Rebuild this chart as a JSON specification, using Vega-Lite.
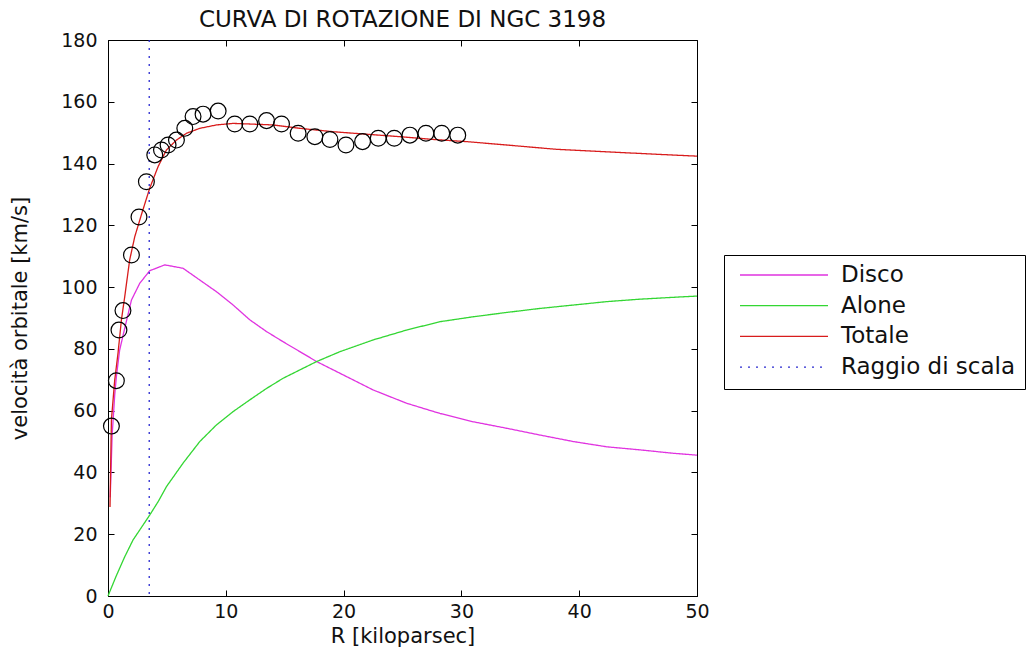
{
  "$schema": "https://vega.github.io/schema/vega-lite/v6.json",
  "width": 589,
  "height": 556,
  "autosize": {"type": "none"},
  "padding": {"left": 108, "top": 40, "right": 336, "bottom": 61},
  "background": "white",
  "title": {"text": "CURVA DI ROTAZIONE DI NGC 3198", "font": "DejaVu Sans", "fontSize": 23, "fontWeight": "normal", "color": "#111111", "anchor": "middle", "offset": -1},
  "config": {
    "view": {"stroke": "black", "strokeWidth": 1},
    "axis": {"grid": false, "domainColor": "black", "tickColor": "black", "labelColor": "#111111", "titleColor": "#111111", "labelFont": "DejaVu Sans", "titleFont": "DejaVu Sans", "labelFontSize": 19, "titleFontSize": 21, "titleFontWeight": "normal", "tickSize": -6, "labelFlush": false, "labelOverlap": false}
  },
  "resolve": {"axis": {"x": "independent", "y": "independent"}},
  "layer": [
    {
      "data": {"values": [
        {"R": 0.19, "v": 32, "serie": "Disco"},
        {"R": 0.35, "v": 52, "serie": "Disco"},
        {"R": 0.57, "v": 65, "serie": "Disco"},
        {"R": 0.71, "v": 71, "serie": "Disco"},
        {"R": 0.99, "v": 79.6, "serie": "Disco"},
        {"R": 1.42, "v": 86.7, "serie": "Disco"},
        {"R": 1.99, "v": 95.8, "serie": "Disco"},
        {"R": 2.69, "v": 101.2, "serie": "Disco"},
        {"R": 3.54, "v": 105.3, "serie": "Disco"},
        {"R": 4.82, "v": 107.2, "serie": "Disco"},
        {"R": 6.37, "v": 106.1, "serie": "Disco"},
        {"R": 7.79, "v": 102.3, "serie": "Disco"},
        {"R": 9.21, "v": 98.5, "serie": "Disco"},
        {"R": 10.62, "v": 94.2, "serie": "Disco"},
        {"R": 12.04, "v": 89.4, "serie": "Disco"},
        {"R": 13.46, "v": 85.6, "serie": "Disco"},
        {"R": 14.87, "v": 82.3, "serie": "Disco"},
        {"R": 16.29, "v": 79.1, "serie": "Disco"},
        {"R": 17.71, "v": 75.9, "serie": "Disco"},
        {"R": 19.12, "v": 73.2, "serie": "Disco"},
        {"R": 22.51, "v": 66.7, "serie": "Disco"},
        {"R": 25.35, "v": 62.4, "serie": "Disco"},
        {"R": 28.18, "v": 59.1, "serie": "Disco"},
        {"R": 31.01, "v": 56.4, "serie": "Disco"},
        {"R": 33.85, "v": 54.3, "serie": "Disco"},
        {"R": 36.68, "v": 52.1, "serie": "Disco"},
        {"R": 39.51, "v": 50.0, "serie": "Disco"},
        {"R": 42.34, "v": 48.3, "serie": "Disco"},
        {"R": 45.18, "v": 47.3, "serie": "Disco"},
        {"R": 48.0, "v": 46.2, "serie": "Disco"},
        {"R": 50, "v": 45.6, "serie": "Disco"},
        {"R": 0, "v": 0, "serie": "Alone"},
        {"R": 0.7, "v": 6.5, "serie": "Alone"},
        {"R": 1.42, "v": 12.7, "serie": "Alone"},
        {"R": 2.12, "v": 18.1, "serie": "Alone"},
        {"R": 3.54, "v": 26.2, "serie": "Alone"},
        {"R": 4.25, "v": 30.5, "serie": "Alone"},
        {"R": 4.96, "v": 35.4, "serie": "Alone"},
        {"R": 6.37, "v": 43.0, "serie": "Alone"},
        {"R": 7.79, "v": 50.0, "serie": "Alone"},
        {"R": 9.21, "v": 55.4, "serie": "Alone"},
        {"R": 10.62, "v": 59.7, "serie": "Alone"},
        {"R": 12.04, "v": 63.5, "serie": "Alone"},
        {"R": 13.46, "v": 67.2, "serie": "Alone"},
        {"R": 14.87, "v": 70.5, "serie": "Alone"},
        {"R": 16.29, "v": 73.2, "serie": "Alone"},
        {"R": 17.71, "v": 75.9, "serie": "Alone"},
        {"R": 19.69, "v": 79.1, "serie": "Alone"},
        {"R": 22.51, "v": 82.9, "serie": "Alone"},
        {"R": 25.35, "v": 86.1, "serie": "Alone"},
        {"R": 28.18, "v": 88.8, "serie": "Alone"},
        {"R": 31.01, "v": 90.4, "serie": "Alone"},
        {"R": 33.85, "v": 91.8, "serie": "Alone"},
        {"R": 36.68, "v": 93.1, "serie": "Alone"},
        {"R": 39.51, "v": 94.2, "serie": "Alone"},
        {"R": 42.34, "v": 95.3, "serie": "Alone"},
        {"R": 45.18, "v": 96.1, "serie": "Alone"},
        {"R": 48.0, "v": 96.7, "serie": "Alone"},
        {"R": 50, "v": 97.1, "serie": "Alone"},
        {"R": 0.17, "v": 28.8, "serie": "Totale"},
        {"R": 0.29, "v": 57.0, "serie": "Totale"},
        {"R": 0.57, "v": 69.9, "serie": "Totale"},
        {"R": 0.85, "v": 78.6, "serie": "Totale"},
        {"R": 1.14, "v": 89.4, "serie": "Totale"},
        {"R": 1.42, "v": 96.9, "serie": "Totale"},
        {"R": 1.84, "v": 108.8, "serie": "Totale"},
        {"R": 2.27, "v": 116.3, "serie": "Totale"},
        {"R": 2.84, "v": 123.5, "serie": "Totale"},
        {"R": 3.54, "v": 132.0, "serie": "Totale"},
        {"R": 4.25, "v": 139.0, "serie": "Totale"},
        {"R": 4.96, "v": 144.4, "serie": "Totale"},
        {"R": 5.81, "v": 147.6, "serie": "Totale"},
        {"R": 6.66, "v": 149.8, "serie": "Totale"},
        {"R": 7.79, "v": 151.4, "serie": "Totale"},
        {"R": 9.21, "v": 152.5, "serie": "Totale"},
        {"R": 10.62, "v": 153.0, "serie": "Totale"},
        {"R": 12.04, "v": 152.8, "serie": "Totale"},
        {"R": 14.02, "v": 152.5, "serie": "Totale"},
        {"R": 16.29, "v": 151.4, "serie": "Totale"},
        {"R": 19.12, "v": 150.3, "serie": "Totale"},
        {"R": 21.95, "v": 149.5, "serie": "Totale"},
        {"R": 24.78, "v": 148.7, "serie": "Totale"},
        {"R": 27.61, "v": 147.8, "serie": "Totale"},
        {"R": 30.45, "v": 147.1, "serie": "Totale"},
        {"R": 33.85, "v": 146.0, "serie": "Totale"},
        {"R": 38.1, "v": 144.6, "serie": "Totale"},
        {"R": 42.34, "v": 143.8, "serie": "Totale"},
        {"R": 46.59, "v": 143.0, "serie": "Totale"},
        {"R": 50, "v": 142.4, "serie": "Totale"}
      ]},
      "mark": {"type": "line", "strokeWidth": 1.3},
      "encoding": {
        "x": {"field": "R", "type": "quantitative", "scale": {"domain": [0, 50], "nice": false},
              "axis": {"orient": "bottom", "values": [0, 10, 20, 30, 40, 50], "title": "R [kiloparsec]", "labelPadding": 12, "titlePadding": 4}},
        "y": {"field": "v", "type": "quantitative", "scale": {"domain": [0, 180], "nice": false},
              "axis": {"orient": "left", "values": [0, 20, 40, 60, 80, 100, 120, 140, 160, 180], "title": "velocità orbitale [km/s]", "labelPadding": 17, "titlePadding": 30}},
        "color": {"field": "serie", "type": "nominal",
                  "scale": {"domain": ["Disco", "Alone", "Totale", "Raggio di scala"], "range": ["#e033e0", "#33d633", "#d81c1c", "#2a2ad0"]},
                  "legend": {"title": null, "orient": "none", "legendX": 616, "legendY": 215, "symbolType": "stroke", "symbolSize": 7744, "symbolStrokeWidth": 1.3, "clipHeight": 22, "rowPadding": 7.7, "padding": 9, "symbolOffset": 6, "labelOffset": 12, "labelFont": "DejaVu Sans", "labelFontSize": 23, "labelColor": "#111111", "labelLimit": 400, "strokeColor": "black", "fillColor": "white"}},
        "strokeDash": {"field": "serie", "type": "nominal",
                       "scale": {"domain": ["Disco", "Alone", "Totale", "Raggio di scala"], "range": [[1, 0], [1, 0], [1, 0], [2, 6]]}}
      }
    },
    {
      "data": {"values": [{"R": 3.5, "serie": "Raggio di scala"}]},
      "mark": {"type": "rule", "strokeWidth": 1.3},
      "encoding": {
        "x": {"field": "R", "type": "quantitative",
              "axis": {"orient": "top", "values": [0, 10, 20, 30, 40, 50], "labels": false, "domain": false, "title": null}},
        "color": {"field": "serie", "type": "nominal"},
        "strokeDash": {"field": "serie", "type": "nominal"}
      }
    },
    {
      "data": {"values": [
        {"R": 0.29, "v": 55.0}, {"R": 0.71, "v": 69.7}, {"R": 0.93, "v": 86.1}, {"R": 1.27, "v": 92.4},
        {"R": 1.99, "v": 110.4}, {"R": 2.63, "v": 122.7}, {"R": 3.26, "v": 134.1}, {"R": 3.97, "v": 142.8},
        {"R": 4.54, "v": 144.4}, {"R": 5.1, "v": 146.0}, {"R": 5.81, "v": 147.6}, {"R": 6.52, "v": 151.4},
        {"R": 7.22, "v": 155.2}, {"R": 8.07, "v": 156.0}, {"R": 9.35, "v": 157.0}, {"R": 10.76, "v": 152.8},
        {"R": 12.04, "v": 152.8}, {"R": 13.46, "v": 153.9}, {"R": 14.73, "v": 152.8}, {"R": 16.14, "v": 149.8},
        {"R": 17.56, "v": 148.7}, {"R": 18.84, "v": 147.8}, {"R": 20.2, "v": 146.0}, {"R": 21.61, "v": 147.1},
        {"R": 22.94, "v": 148.2}, {"R": 24.3, "v": 148.2}, {"R": 25.63, "v": 149.2}, {"R": 26.99, "v": 149.8},
        {"R": 28.33, "v": 149.8}, {"R": 29.69, "v": 149.2}
      ]},
      "mark": {"type": "point", "shape": "circle", "filled": false, "size": 250, "color": "black", "strokeWidth": 1.2, "opacity": 1},
      "encoding": {
        "x": {"field": "R", "type": "quantitative", "axis": null},
        "y": {"field": "v", "type": "quantitative",
              "axis": {"orient": "right", "values": [0, 20, 40, 60, 80, 100, 120, 140, 160, 180], "labels": false, "domain": false, "title": null}}
      }
    }
  ]
}
